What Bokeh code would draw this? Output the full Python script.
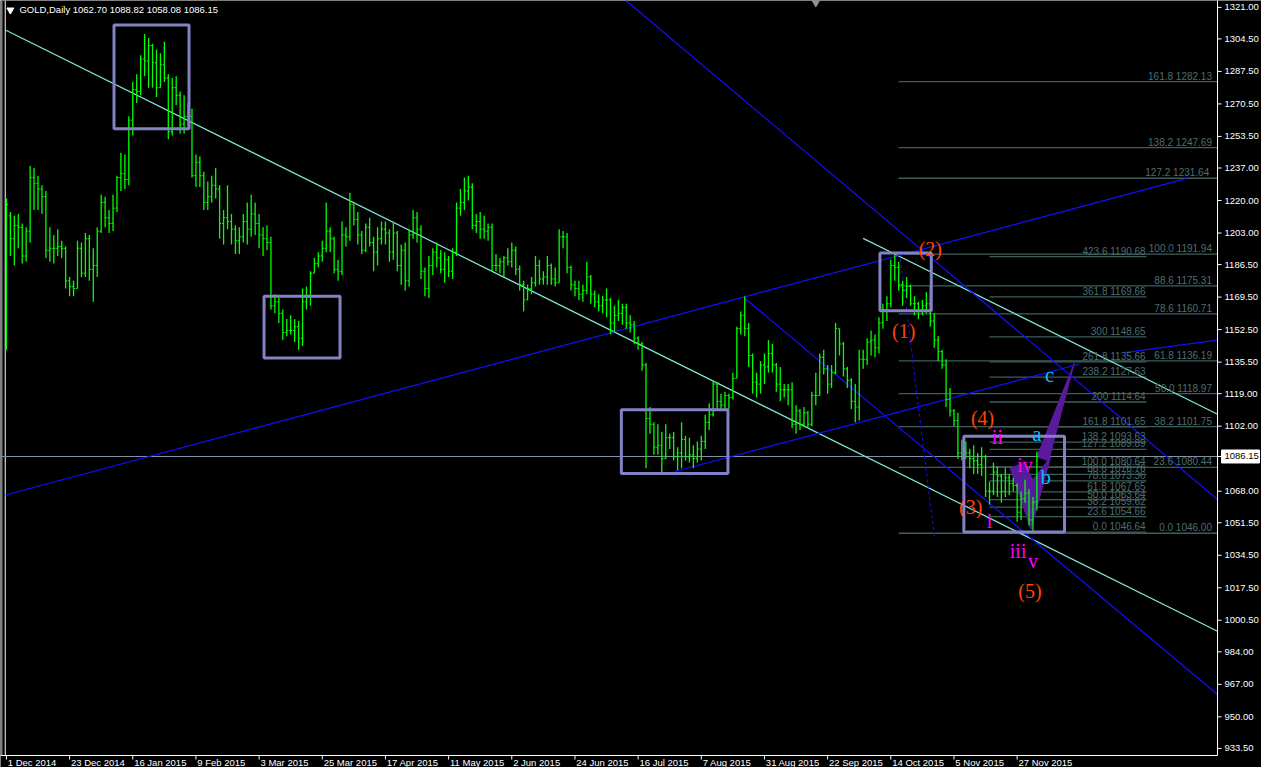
from bokeh.plotting import figure
from bokeh.models import Range1d
from bokeh.core.properties import value
from bokeh.embed import file_html
from bokeh.resources import INLINE

# ---------------- price data (GOLD, Daily) ----------------
dates = ["2014-12-01","2014-12-02","2014-12-03","2014-12-04","2014-12-05","2014-12-08","2014-12-09","2014-12-10","2014-12-11","2014-12-12",
"2014-12-15","2014-12-16","2014-12-17","2014-12-18","2014-12-19","2014-12-22","2014-12-23","2014-12-24","2014-12-26","2014-12-29",
"2014-12-30","2014-12-31","2015-01-02","2015-01-05","2015-01-06","2015-01-07","2015-01-08","2015-01-09","2015-01-12","2015-01-13",
"2015-01-14","2015-01-15","2015-01-16","2015-01-19","2015-01-20","2015-01-21","2015-01-22","2015-01-23","2015-01-26","2015-01-27",
"2015-01-28","2015-01-29","2015-01-30","2015-02-02","2015-02-03","2015-02-04","2015-02-05","2015-02-06","2015-02-09","2015-02-10",
"2015-02-11","2015-02-12","2015-02-13","2015-02-16","2015-02-17","2015-02-18","2015-02-19","2015-02-20","2015-02-23","2015-02-24",
"2015-02-25","2015-02-26","2015-02-27","2015-03-02","2015-03-03","2015-03-04","2015-03-05","2015-03-06","2015-03-09","2015-03-10",
"2015-03-11","2015-03-12","2015-03-13","2015-03-16","2015-03-17","2015-03-18","2015-03-19","2015-03-20","2015-03-23","2015-03-24",
"2015-03-25","2015-03-26","2015-03-27","2015-03-30","2015-03-31","2015-04-01","2015-04-02","2015-04-06","2015-04-07","2015-04-08",
"2015-04-09","2015-04-10","2015-04-13","2015-04-14","2015-04-15","2015-04-16","2015-04-17","2015-04-20","2015-04-21","2015-04-22",
"2015-04-23","2015-04-24","2015-04-27","2015-04-28","2015-04-29","2015-04-30","2015-05-01","2015-05-04","2015-05-05","2015-05-06",
"2015-05-07","2015-05-08","2015-05-11","2015-05-12","2015-05-13","2015-05-14","2015-05-15","2015-05-18","2015-05-19","2015-05-20",
"2015-05-21","2015-05-22","2015-05-25","2015-05-26","2015-05-27","2015-05-28","2015-05-29","2015-06-01","2015-06-02","2015-06-03",
"2015-06-04","2015-06-05","2015-06-08","2015-06-09","2015-06-10","2015-06-11","2015-06-12","2015-06-15","2015-06-16","2015-06-17",
"2015-06-18","2015-06-19","2015-06-22","2015-06-23","2015-06-24","2015-06-25","2015-06-26","2015-06-29","2015-06-30","2015-07-01",
"2015-07-02","2015-07-03","2015-07-06","2015-07-07","2015-07-08","2015-07-09","2015-07-10","2015-07-13","2015-07-14","2015-07-15",
"2015-07-16","2015-07-17","2015-07-20","2015-07-21","2015-07-22","2015-07-23","2015-07-24","2015-07-27","2015-07-28","2015-07-29",
"2015-07-30","2015-07-31","2015-08-03","2015-08-04","2015-08-05","2015-08-06","2015-08-07","2015-08-10","2015-08-11","2015-08-12",
"2015-08-13","2015-08-14","2015-08-17","2015-08-18","2015-08-19","2015-08-20","2015-08-21","2015-08-24","2015-08-25","2015-08-26",
"2015-08-27","2015-08-28","2015-08-31","2015-09-01","2015-09-02","2015-09-03","2015-09-04","2015-09-07","2015-09-08","2015-09-09",
"2015-09-10","2015-09-11","2015-09-14","2015-09-15","2015-09-16","2015-09-17","2015-09-18","2015-09-21","2015-09-22","2015-09-23",
"2015-09-24","2015-09-25","2015-09-28","2015-09-29","2015-09-30","2015-10-01","2015-10-02","2015-10-05","2015-10-06","2015-10-07",
"2015-10-08","2015-10-09","2015-10-12","2015-10-13","2015-10-14","2015-10-15","2015-10-16","2015-10-19","2015-10-20","2015-10-21",
"2015-10-22","2015-10-23","2015-10-26","2015-10-27","2015-10-28","2015-10-29","2015-10-30","2015-11-02","2015-11-03","2015-11-04",
"2015-11-05","2015-11-06","2015-11-09","2015-11-10","2015-11-11","2015-11-12","2015-11-13","2015-11-16","2015-11-17","2015-11-18",
"2015-11-19","2015-11-20","2015-11-23","2015-11-24","2015-11-25","2015-11-26","2015-11-27","2015-11-30","2015-12-01","2015-12-02",
"2015-12-03","2015-12-04"]

opens = [1142,1212,1200,1207,1206,1191,1204,1232,1229,1226, 1222,1194,1195,1195,1196,1195,1178,1175,1174,1195,
1182,1200,1184,1186,1204,1219,1211,1208,1216,1232, 1234,1231,1262,1278,1277,1294,1293,1301,1292,1279,
1291,1284,1256,1279,1275,1260,1264,1264,1233,1240, 1233,1219,1222,1228,1226,1208,1211,1209,1205,1199,
1201,1209,1205,1213,1208,1202,1200,1198,1165,1167, 1161,1151,1152,1152,1154,1148,1167,1170,1182,1187,
1191,1195,1204,1200,1184,1183,1202,1201,1218,1210, 1202,1194,1206,1198,1193,1200,1205,1203,1193,1203,
1186,1194,1178,1202,1211,1205,1183,1174,1186,1193, 1190,1184,1189,1183,1193,1216,1219,1225,1227,1207,
1209,1205,1204,1206,1186,1186,1188,1190,1188,1194, 1184,1176,1168,1174,1177,1186,1179,1180,1186,1179,
1177,1201,1201,1185,1176,1174,1171,1173,1180,1171, 1167,1165,1168,1168,1156,1160,1161,1164,1156,1155,
1148,1145,1134,1106,1103,1091,1092,1085,1096,1096, 1086,1088,1095,1086,1087,1085,1090,1094,1104,1108,
1124,1115,1113,1118,1117,1127,1153,1160,1153,1139, 1125,1124,1134,1133,1140,1134,1124,1121,1121,1121,
1103,1110,1103,1109,1103,1118,1118,1138,1132,1124, 1130,1153,1145,1132,1126,1115,1112,1137,1137,1146,
1147,1143,1156,1163,1166,1186,1185,1176,1173,1175, 1166,1166,1162,1165,1166,1157,1147,1141,1134,1116,
1110,1105,1088,1090,1088,1085,1084,1082,1086,1068, 1068,1078,1076,1068,1075,1072,1071,1057,1064,1067,
1053,1062.70]

highs = [1221,1214,1212,1213,1208,1206,1238,1237,1233,1228, 1225,1206,1202,1205,1199,1196,1180,1178,1199,1198,
1203,1202,1195,1206,1223,1222,1215,1223,1233,1245, 1244,1264,1282,1286,1296,1307,1305,1302,1299,1297,
1303,1286,1284,1285,1277,1275,1271,1268,1244,1243, 1235,1230,1233,1237,1228,1215,1228,1213,1207,1206,
1213,1219,1223,1219,1213,1206,1207,1201,1171,1169, 1163,1158,1160,1158,1157,1174,1175,1183,1190,1193,
1199,1219,1206,1201,1189,1209,1206,1224,1218,1214, 1204,1208,1211,1201,1206,1209,1209,1205,1209,1204,
1197,1198,1205,1215,1214,1207,1185,1191,1195,1198, 1194,1193,1191,1195,1219,1226,1232,1233,1229,1213,
1214,1212,1208,1208,1192,1190,1191,1195,1198,1196, 1186,1178,1176,1180,1191,1189,1183,1191,1187,1185,
1205,1204,1203,1186,1178,1178,1176,1188,1181,1173, 1171,1170,1174,1169,1165,1168,1166,1166,1160,1157,
1149,1146,1135,1112,1104,1103,1099,1103,1098,1099, 1091,1104,1097,1096,1092,1094,1097,1108,1114,1126,
1125,1119,1120,1119,1130,1154,1162,1170,1156,1140, 1130,1136,1140,1147,1145,1135,1133,1124,1124,1125,
1113,1111,1112,1110,1120,1130,1140,1142,1134,1134, 1156,1153,1146,1133,1127,1124,1142,1142,1148,1152,
1150,1159,1166,1170,1189,1191.9,1188,1178,1180,1176, 1170,1167,1168,1172,1175,1161,1149,1142,1137,1122,
1111,1109,1095,1094,1090,1092,1088,1091,1087,1073, 1083,1081,1077,1080,1077,1075,1072,1068,1074,1069,
1065,1088.82]

lows = [1142,1191,1186,1195,1187,1188,1198,1215,1215,1213, 1190,1188,1187,1191,1190,1174,1170,1170,1174,1180,
1180,1178,1167,1180,1203,1206,1203,1204,1214,1225, 1226,1228,1254,1271,1275,1285,1279,1279,1274,1279,
1282,1252,1254,1270,1255,1255,1259,1232,1227,1227, 1215,1215,1219,1221,1200,1197,1205,1197,1192,1192,
1198,1197,1201,1202,1195,1191,1194,1163,1161,1156, 1147,1149,1150,1146,1142,1144,1163,1165,1182,1185,
1188,1193,1193,1182,1178,1181,1196,1199,1207,1197, 1192,1193,1196,1183,1186,1197,1197,1188,1189,1183,
1176,1173,1175,1200,1198,1179,1170,1169,1181,1185, 1182,1177,1180,1179,1191,1212,1215,1220,1205,1203,
1200,1200,1199,1183,1183,1182,1180,1186,1185,1181, 1173,1162,1168,1171,1175,1176,1176,1176,1176,1175,
1177,1195,1182,1173,1170,1168,1167,1171,1166,1164, 1162,1161,1159,1150,1151,1157,1155,1153,1151,1145,
1142,1131,1080,1098,1087,1087,1077,1085,1090,1084, 1079,1080,1084,1083,1080,1083,1084,1090,1100,1107,
1111,1110,1110,1111,1116,1127,1150,1149,1133,1119, 1117,1119,1124,1130,1130,1120,1115,1117,1113,1101,
1098,1100,1102,1101,1102,1113,1118,1129,1119,1122, 1129,1139,1128,1122,1111,1104,1105,1132,1134,1139,
1138,1140,1153,1157,1164,1178,1173,1165,1169,1165, 1160,1158,1160,1161,1154,1143,1136,1132,1112,1107,
1102,1085,1084,1085,1080,1077,1077,1076,1065,1061, 1066,1065,1062,1065,1066,1068,1052,1053,1062,1050,
1046,1058.08]

closes = [1218,1200,1207,1206,1191,1204,1232,1229,1226,1222, 1194,1195,1195,1196,1195,1178,1175,1174,1195,1182,
1200,1184,1186,1204,1219,1211,1208,1216,1232,1234, 1231,1262,1278,1277,1294,1293,1301,1292,1279,1291,
1284,1256,1279,1275,1260,1264,1264,1233,1240,1233, 1219,1222,1228,1226,1208,1211,1209,1205,1199,1201,
1209,1205,1213,1208,1202,1200,1198,1165,1167,1161, 1151,1152,1152,1154,1148,1167,1170,1182,1187,1191,
1195,1204,1200,1184,1183,1202,1201,1218,1210,1202, 1194,1206,1198,1193,1200,1205,1203,1193,1203,1186,
1194,1178,1202,1211,1205,1183,1174,1186,1193,1190, 1184,1189,1183,1193,1216,1219,1225,1227,1207,1209,
1205,1204,1206,1186,1186,1188,1190,1188,1194,1184, 1176,1168,1174,1177,1186,1179,1180,1186,1179,1177,
1201,1201,1185,1176,1174,1171,1173,1180,1171,1167, 1165,1168,1168,1156,1160,1161,1164,1156,1155,1148,
1145,1134,1106,1103,1091,1092,1085,1096,1096,1086, 1088,1095,1086,1087,1085,1090,1094,1104,1108,1124,
1115,1113,1118,1117,1127,1153,1160,1153,1139,1125, 1124,1134,1133,1140,1134,1124,1121,1121,1121,1103,
1110,1103,1109,1103,1118,1118,1138,1132,1124,1130, 1153,1145,1132,1126,1115,1112,1137,1137,1146,1147,
1143,1156,1163,1166,1186,1185,1176,1173,1175,1166, 1166,1162,1165,1166,1157,1147,1141,1134,1116,1110,
1105,1088,1090,1088,1085,1084,1082,1086,1068,1068, 1078,1076,1068,1075,1072,1071,1057,1064,1067,1053,
1062,1086.15]

header = "GOLD,Daily  1062.70 1088.82 1058.08 1086.15"
last_price = 1086.15
last_price_text = "1086.15"

# axis ticks
price_ticks = [1321.00,1304.50,1287.50,1270.50,1253.50,1237.00,1220.00,1203.00,1186.50,1169.50,1152.50,1135.50,
               1119.00,1102.00,1068.00,1051.50,1034.50,1017.50,1000.50,984.00,967.00,950.00,933.50]
date_tick_bars = [0,16,32,48,64,80,96,112,128,144,160,176,192,208,224,240,256]
date_tick_labels = ["1 Dec 2014","23 Dec 2014","16 Jan 2015","9 Feb 2015","3 Mar 2015","25 Mar 2015","17 Apr 2015",
                    "11 May 2015","2 Jun 2015","24 Jun 2015","16 Jul 2015","7 Aug 2015","31 Aug 2015","22 Sep 2015",
                    "14 Oct 2015","5 Nov 2015","27 Nov 2015"]

# Fibonacci sets
fib1_labels = ["161.8 1282.13","138.2 1247.69","127.2  1231.64","100.0 1191.94","88.6 1175.31","78.6 1160.71",
               "61.8 1136.19","50.0 1118.97","38.2 1101.75","23.6 1080.44","0.0 1046.00"]
fib1_prices = [1282.13,1247.69,1231.64,1191.94,1175.31,1160.71,1136.19,1118.97,1101.75,1080.44,1046.00]
fib1_start = 226.0
fib2_labels = ["423.6 1190.68","361.8 1169.66","300 1148.65","261.8 1135.66","238.2 1127.63","200 1114.64",
               "161.8 1101.65","138.2 1093.63","127.2 1089.89","100.0 1080.64","88.6 1076.76","78.6 1073.36",
               "61.8 1067.65","50.0 1063.64","38.2 1059.62","23.6 1054.66","0.0 1046.64"]
fib2_prices = [1190.68,1169.66,1148.65,1135.66,1127.63,1114.64,1101.65,1093.63,1089.89,1080.64,1076.76,1073.36,
               1067.65,1063.64,1059.62,1054.66,1046.64]
fib2_span = [249.0, 288.75]

# trend lines (bar index, price) pairs
cyan_lines = [([-0.25, 306.75], [1309.2, 994.8]), ([217.0, 306.75], [1200.2, 1108.2])]
blue_lines = [([-0.25, 299.0], [1066.0, 1231.6]),
              ([169.25, 271.8], [1078.3, 1134.5]),
              ([283.0, 306.75], [1140.5, 1147.0]),
              ([156.9, 306.75], [1324.6, 1063.7]),
              ([187.0, 306.75], [1168.9, 961.7])]
blue_dashed = [([226.25, 235.0], [1192.5, 1044.5])]

# rectangles
box_left = [27.25, 65.25, 155.75, 221.25, 242.5]
box_right = [46.25, 84.5, 182.75, 234.25, 268.0]
box_top = [1311.8, 1170.0, 1110.6, 1192.5, 1096.7]
box_bottom = [1257.5, 1137.7, 1077.3, 1162.3, 1046.6]

# purple triangles
tri_x = [[270.5, 264.0, 261.0], [254.25, 259.5, 264.5, 260.0, 257.5]]
tri_y = [[1135.2, 1083.9, 1086.0], [1079.8, 1048.1, 1086.0, 1074.0, 1082.9]]

# wave labels
wave_text = ["(2)", "(1)", "(4)", "(3)", "(5)"]
wave_x = [234.0, 227.25, 247.25, 244.25, 259.25]
wave_y = [1194.5, 1152.0, 1106.5, 1059.9, 1015.8]
sub_text = ["ii", "i", "iii", "v", "iv"]
sub_x = [251.0, 249.0, 256.25, 260.0, 258.0]
sub_y = [1096.2, 1052.2, 1036.8, 1031.7, 1081.9]
abc_text = ["a", "b", "c"]
abc_x = [261.0, 263.25, 264.25]
abc_y = [1097.8, 1075.2, 1128.5]

# ---------------- figure (whole canvas is one frame; axes drawn as glyphs) ----------------
W, H = 1261, 767
X0, X_EDGE, X1 = -1.5, 306.75, 317.89       # chart area ends at X_EDGE, price scale to the right
Y_EDGE, Y1 = 929.8, 1324.58                 # date scale below Y_EDGE
PX_X = 1217 / (X_EDGE - X0)                 # pixels per bar
PX_Y = 755 / (Y1 - Y_EDGE)                  # pixels per dollar
Y0 = Y1 - H / PX_Y
FONT = value("Liberation Sans")

p = figure(width=W, height=H, output_backend="svg", toolbar_location=None,
           x_range=Range1d(X0, X1), y_range=Range1d(Y0, Y1),
           x_axis_location=None, y_axis_location=None,
           background_fill_color="black", border_fill_color="black",
           min_border_left=0, min_border_top=0, min_border_right=0, min_border_bottom=0)
p.outline_line_color = None
p.xgrid.visible = False
p.ygrid.visible = False

idx = list(range(len(dates)))

# left edge lines
p.segment(x0=[-1.25], y0=[Y_EDGE], x1=[-1.25], y1=[Y1], line_color="#808080", line_width=2)
p.segment(x0=[-0.3], y0=[Y_EDGE], x1=[-0.3], y1=[Y1], line_color="#ffffff", line_width=1)

# fib lines
p.segment(x0=[fib1_start]*len(fib1_prices), y0=fib1_prices, x1=[X_EDGE]*len(fib1_prices), y1=fib1_prices,
          line_color="#3E5E5E", line_width=1.3)
p.segment(x0=[fib2_span[0]]*len(fib2_prices), y0=fib2_prices, x1=[fib2_span[1]]*len(fib2_prices), y1=fib2_prices,
          line_color="#3E5E5E", line_width=1.3)

# current price line
p.segment(x0=[X0], y0=[last_price], x1=[X_EDGE], y1=[last_price], line_color="#8393A6", line_width=1)

# purple shapes
p.patches(xs=tri_x, ys=tri_y, fill_color="#5A1A9C", line_color="#5A1A9C", line_width=1)

# trend lines
for xs, ys in cyan_lines:
    p.line(xs, ys, line_color="#7FE8D6", line_width=1.2)
for xs, ys in blue_lines:
    p.line(xs, ys, line_color="#1010FF", line_width=1.2)
for xs, ys in blue_dashed:
    p.line(xs, ys, line_color="#1010FF", line_width=1, line_dash="3 3")

# OHLC bars
p.segment(x0=idx, y0=lows, x1=idx, y1=highs, line_color="#00FF00", line_width=1.3)
p.segment(x0=[i - 0.4 for i in idx], y0=opens, x1=idx, y1=opens, line_color="#00FF00", line_width=1)
p.segment(x0=idx, y0=closes, x1=[i + 0.4 for i in idx], y1=closes, line_color="#00FF00", line_width=1)

# rectangles
p.quad(left=box_left, right=box_right, top=box_top, bottom=box_bottom,
       fill_color=None, line_color="#8282C4", line_width=3)

# fib labels
p.text(x=[X_EDGE - 1.4]*len(fib1_prices), y=fib1_prices, text=fib1_labels, text_align="right",
       text_baseline="bottom", text_font=FONT, text_font_size="10px", text_color="#4E6E6E")
p.text(x=[fib2_span[1] - 0.2]*len(fib2_prices), y=fib2_prices, text=fib2_labels, text_align="right",
       text_baseline="bottom", text_font=FONT, text_font_size="10px", text_color="#4E6E6E")

# wave labels
p.text(x=wave_x, y=wave_y, text=wave_text, text_align="center", text_baseline="middle",
       text_font=value("Liberation Serif"), text_font_size="20px", text_color="#FF4500")
p.text(x=sub_x, y=sub_y, text=sub_text, text_align="center", text_baseline="middle",
       text_font=value("Liberation Serif"), text_font_size="20px", text_color="#FF00FF")
p.text(x=abc_x, y=abc_y, text=abc_text, text_align="center", text_baseline="middle",
       text_font=value("Liberation Serif"), text_font_size="21px", text_color="#00BFFF")

# header
p.scatter(x=[1.0], y=[1319.6], marker="inverted_triangle", size=7, fill_color="white", line_color="white")
p.scatter(x=[205.0], y=[1323.6], marker="inverted_triangle", size=8, fill_color="#909090", line_color="#909090")
p.text(x=[3.3], y=[1319.8], text=[header], text_align="left", text_baseline="middle",
       text_font=FONT, text_font_size="9.5px", text_color="white")

# ---- price scale (right) ----
tick_len_x = 4 / PX_X
p.segment(x0=[X_EDGE], y0=[Y_EDGE], x1=[X_EDGE], y1=[Y1 + 5], line_color="white", line_width=1)
p.segment(x0=[X_EDGE]*len(price_ticks), y0=price_ticks, x1=[X_EDGE + tick_len_x]*len(price_ticks), y1=price_ticks,
          line_color="white", line_width=1)
p.text(x=[X_EDGE + 7 / PX_X]*len(price_ticks), y=price_ticks, text=[f"{t:.2f}" for t in price_ticks],
       text_align="left", text_baseline="middle", text_font=FONT, text_font_size="9.5px", text_color="white")
# current price tag
p.quad(left=[X_EDGE + tick_len_x], right=[X_EDGE + 42 / PX_X], top=[last_price + 6.5 / PX_Y],
       bottom=[last_price - 6.5 / PX_Y], fill_color="white", line_color="white")
p.segment(x0=[X_EDGE], y0=[last_price], x1=[X_EDGE + tick_len_x], y1=[last_price], line_color="white", line_width=1)
p.text(x=[X_EDGE + 7 / PX_X], y=[last_price], text=[last_price_text], text_align="left", text_baseline="middle",
       text_font=FONT, text_font_size="9.5px", text_color="black")

# ---- date scale (bottom) ----
p.segment(x0=[X0 - 1], y0=[Y_EDGE], x1=[X_EDGE], y1=[Y_EDGE], line_color="white", line_width=1)
p.segment(x0=date_tick_bars, y0=[Y_EDGE]*len(date_tick_bars), x1=date_tick_bars,
          y1=[Y_EDGE - 4 / PX_Y]*len(date_tick_bars), line_color="white", line_width=1)
p.text(x=[b + 0.35 for b in date_tick_bars], y=[Y_EDGE]*len(date_tick_bars), text=date_tick_labels,
       text_align="left", text_baseline="top", y_offset=1, text_font=FONT,
       text_font_size="9.5px", text_color="white")

open("out.html", "w").write(file_html(p, INLINE))
